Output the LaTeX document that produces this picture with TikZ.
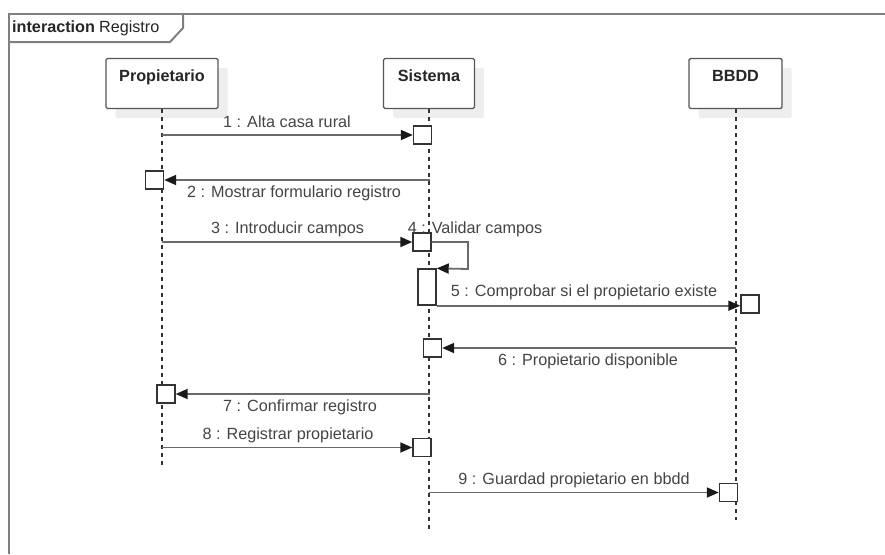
\documentclass[tikz,border=0pt]{standalone}
\usepackage{fontspec}
\setmainfont{Liberation Sans}
\usetikzlibrary{arrows.meta}
\definecolor{framegray}{HTML}{7F7F7F}
\definecolor{boxgray}{HTML}{555555}
\definecolor{msggray}{HTML}{6A6A6A}
\definecolor{txtgray}{HTML}{444444}
\definecolor{shadowgray}{HTML}{EEEEEE}
\tikzset{
  basefont/.style={font=\fontsize{16.2}{19}\selectfont},
  frameline/.style={draw=framegray, line width=2pt},
  head/.style={draw=boxgray, line width=1.4pt, fill=white, rounded corners=1.5pt,
    minimum width=112pt, inner ysep=0pt, text height=23pt, text depth=27pt,
    basefont, font=\fontsize{16.2}{19}\selectfont\bfseries, text=black!85,
    preaction={fill=shadowgray, draw=none, transform canvas={xshift=9.5pt,yshift=-9.5pt}}},
  lifeline/.style={draw=black!80, line width=1.3pt, dash pattern=on 4pt off 4pt},
  act/.style={draw=black!80, line width=1.4pt, fill=white, minimum width=18pt,
    minimum height=18pt, inner sep=0pt},
  tallact/.style={act, minimum height=36pt},
  msg/.style={draw=msggray, line width=1.8pt,
    -{Triangle[length=12pt,width=10pt,fill=black!90,color=black!90]}},
  msglabel/.style={basefont, text=txtgray, inner sep=0pt},
}
\begin{document}
\begin{tikzpicture}[x=1pt,y=-1pt]
\useasboundingbox (0,0) rectangle (885,554);

% interaction frame and its name tab
\draw[frameline] (9,554) -- (9,14) -- (885,14);
\draw[frameline] (9,42) -- (170,42) -- (183,28) -- (183,14);
\node[basefont, anchor=west, inner sep=0pt, text=black!85] (title) at (12,28)
  {\textbf{interaction}\hspace{0.25em}Registro};

% lifeline heads
\node[head] (prop) at (162,83.5) {Propietario};
\node[head, minimum width=91pt] (sis) at (429,83.5) {Sistema};
\node[head, minimum width=93pt] (bd) at (735.5,83.5) {BBDD};

% lifeline ends
\coordinate (propend) at (162,467);
\coordinate (sisend) at (429,529);
\coordinate (bdend) at (736,520);

\draw[lifeline] (prop.south -| propend) -- (propend);
\draw[lifeline] (sis.south -| sisend) -- (sisend);
\draw[lifeline] (bd.south -| bdend) -- (bdend);

% execution specifications
\node[act] (a1) at (422.5,135) {};
\node[act] (a2) at (154.5,180) {};
\node[act] (a3) at (422,242) {};
\node[tallact] (a4) at (427,287) {};
\node[act] (a5) at (750,304) {};
\node[act] (a6) at (432.5,348) {};
\node[act] (a7) at (166,394) {};
\node[act] (a8) at (422,447.5) {};
\node[act] (a9) at (728.5,492.5) {};

% message end points on the lifelines
\coordinate (p1) at (162,135);
\coordinate (s2) at (430,180);
\coordinate (p3) at (162,242);
\coordinate (loopa) at (468,242);
\coordinate (loopb) at (468,269);
\coordinate (b6) at (736,348);
\coordinate (s7) at (430,394);
\coordinate (p8) at (162,447.5);
\coordinate (s9) at (429,492.5);

% messages
\draw[msg] (p1) -- (a1.west);
\draw[msg] (s2) -- (a2.east);
\draw[msg] (p3) -- (a3.west);
\draw[msg] (a3.east) -- (loopa) -- (loopb) -- (a4.north east);
\draw[msg] (a4.south east) -- (a5.west |- a4.south east);
\draw[msg] (b6) -- (a6.east);
\draw[msg] (s7) -- (a7.east);
\draw[msg] (p8) -- (a8.west);
\draw[msg] (s9) -- (a9.west);

% message labels
\node[msglabel] (m1) at (287,122) {1 : Alta casa rural};
\node[msglabel] (m2) at (294,193) {2 : Mostrar formulario registro};
\node[msglabel] (m3) at (287.5,229) {3 : Introducir campos};
\node[msglabel] (m4) at (475,229) {4 : Validar campos};
\node[msglabel] (m5) at (584,292) {5 : Comprobar si el propietario existe};
\node[msglabel] (m6) at (588,361) {6 : Propietario disponible};
\node[msglabel] (m7) at (300,407) {7 : Confirmar registro};
\node[msglabel] (m8) at (288,435) {8 : Registrar propietario};
\node[msglabel] (m9) at (574,480) {9 : Guardad propietario en bbdd};
\end{tikzpicture}
\end{document}
